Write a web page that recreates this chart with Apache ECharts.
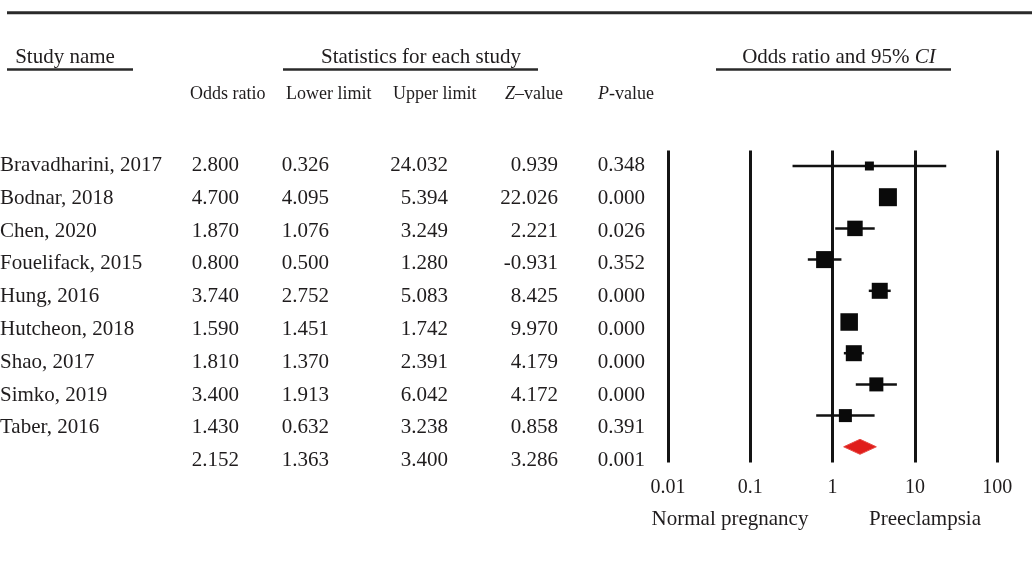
<!DOCTYPE html>
<html>
<head>
<meta charset="utf-8">
<title>Odds ratio forest plot</title>
<script src="https://cdn.jsdelivr.net/npm/echarts@6/dist/echarts.min.js"></script>
<style>
  html, body { margin: 0; padding: 0; background: #fff; }
  #chart { width: 1032px; height: 564px; }
</style>
</head>
<body>
<div id="chart"></div>
<script>
// Study-level results; the last row is the pooled estimate.
const studies = ['Bravadharini, 2017', 'Bodnar, 2018', 'Chen, 2020', 'Fouelifack, 2015', 'Hung, 2016',
                 'Hutcheon, 2018', 'Shao, 2017', 'Simko, 2019', 'Taber, 2016', ''];
const oddsRatio  = [2.800, 4.700, 1.870, 0.800, 3.740, 1.590, 1.810, 3.400, 1.430, 2.152];
const lowerLimit = [0.326, 4.095, 1.076, 0.500, 2.752, 1.451, 1.370, 1.913, 0.632, 1.363];
const upperLimit = [24.032, 5.394, 3.249, 1.280, 5.083, 1.742, 2.391, 6.042, 3.238, 3.400];
const zValue     = [0.939, 22.026, 2.221, -0.931, 8.425, 9.970, 4.179, 4.172, 0.858, 3.286];
const pValue     = [0.348, 0.000, 0.026, 0.352, 0.000, 0.000, 0.000, 0.000, 0.391, 0.001];
// Relative study weights (%), used for the size of each square.
const relWeight  = [3.8, 15.3, 11.3, 13.7, 12.1, 14.5, 12.1, 9.3, 8.0];
const xTickLabels = ['0.01', '0.1', '1', '10', '100'];
const sideLabels = ['Normal pregnancy', 'Preeclampsia'];

const SERIF = '"Liberation Serif", "Times New Roman", serif';
const INK = '#1f1c1d';
const rowKeys = studies.map((_, i) => String(i));
const pooledRow = studies.length - 1;

// Table columns: right-aligned anchors in pixels.
const columns = [
  { x: 0,   align: 'left',  text: i => studies[i] },
  { x: 239, align: 'right', text: i => oddsRatio[i].toFixed(3) },
  { x: 329, align: 'right', text: i => lowerLimit[i].toFixed(3) },
  { x: 448, align: 'right', text: i => upperLimit[i].toFixed(3) },
  { x: 558, align: 'right', text: i => zValue[i].toFixed(3) },
  { x: 645, align: 'right', text: i => pValue[i].toFixed(3) }
];

const forestData = oddsRatio.map((v, i) => [i, v, lowerLimit[i], upperLimit[i],
  i < relWeight.length ? relWeight[i] : null]);
const tableData = studies.map((_, i) => [0, i]);

function renderForest(params, api) {
  const row = api.value(0);
  const or = api.value(1), lo = api.value(2), hi = api.value(3), w = api.value(4);
  const c = api.coord([or, row]);
  const pLo = api.coord([lo, row]);
  const pHi = api.coord([hi, row]);
  if (row === pooledRow) {
    const h = 7.5;
    return {
      type: 'polygon',
      shape: { points: [[pLo[0], c[1]], [c[0], c[1] - h], [pHi[0], c[1]], [c[0], c[1] + h]] },
      style: { fill: '#e01e1b', stroke: '#e84a45', lineWidth: 1 }
    };
  }
  const s = Math.sqrt(w) * 4.6;
  return {
    type: 'group',
    children: [
      { type: 'line', shape: { x1: pLo[0], y1: c[1], x2: pHi[0], y2: c[1] },
        style: { stroke: '#111', lineWidth: 2.5 } },
      { type: 'rect', shape: { x: c[0] - s / 2, y: c[1] - s / 2, width: s, height: s },
        style: { fill: '#0a0a0a' } }
    ]
  };
}

function renderTable(params, api) {
  const row = api.value(1);
  const y = api.coord([0, row])[1];
  return {
    type: 'group',
    children: columns.map(col => ({
      type: 'text',
      x: col.x, y: y,
      style: { text: col.text(row), fontFamily: SERIF, fontSize: 21, fill: INK,
               align: col.align, verticalAlign: 'middle' }
    }))
  };
}

function txt(x, y, text, size, align, rich) {
  return { type: 'text', x: x, y: y,
    style: { text: text, fontFamily: SERIF, fontSize: size, fill: INK,
             align: align || 'center', verticalAlign: 'middle', rich: rich } };
}
function hline(x1, x2, y, w) {
  return { type: 'line', shape: { x1: x1, y1: y, x2: x2, y2: y },
    style: { stroke: '#2a2a2a', lineWidth: w } };
}
const italic = size => ({ i: { fontFamily: SERIF, fontSize: size, fontStyle: 'italic', fill: INK },
                          n: { fontFamily: SERIF, fontSize: size, fill: INK } });

const chart = echarts.init(document.getElementById('chart'), null, { renderer: 'canvas' });
chart.setOption({
  backgroundColor: '#fff',
  animation: false,
  grid: [
    { left: 668, top: 150.4, width: 329.2, height: 312 },
    { left: 0, top: 149.1, width: 660, height: 328 }
  ],
  xAxis: [
    { type: 'log', logBase: 10, min: 0.01, max: 100, gridIndex: 0,
      axisLine: { show: false }, axisTick: { show: false },
      splitLine: { show: true, lineStyle: { color: '#141414', width: 3 } },
      axisLabel: { margin: 15, fontFamily: SERIF, fontSize: 20, color: INK,
        formatter: v => xTickLabels[Math.round(Math.log10(v)) + 2] } },
    { type: 'value', min: 0, max: 660, gridIndex: 1, show: false }
  ],
  yAxis: [
    { type: 'category', data: rowKeys, inverse: true, gridIndex: 0, show: false },
    { type: 'category', data: rowKeys, inverse: true, gridIndex: 1, show: false }
  ],
  series: [
    { type: 'custom', xAxisIndex: 0, yAxisIndex: 0, data: forestData,
      encode: { x: [1, 2, 3], y: 0 }, renderItem: renderForest, clip: false, silent: true },
    { type: 'custom', xAxisIndex: 1, yAxisIndex: 1, data: tableData,
      encode: { x: 0, y: 1 }, renderItem: renderTable, clip: false, silent: true }
  ],
  graphic: [
    hline(7, 1032, 12.7, 3),
    txt(65, 57, 'Study name', 21),
    hline(7, 133, 69.5, 2.5),
    txt(421, 57, 'Statistics for each study', 21),
    hline(283, 538, 69.5, 2.5),
    txt(839, 57, '{n|Odds ratio and 95% }{i|CI}', 21, 'center', italic(21)),
    hline(716, 951, 69.5, 2.5),
    txt(190, 94, 'Odds ratio', 18, 'left'),
    txt(286, 94, 'Lower limit', 18, 'left'),
    txt(393, 94, 'Upper limit', 18, 'left'),
    txt(505, 94, '{i|Z}{n|–value}', 18, 'left', italic(18)),
    txt(598, 94, '{i|P}{n|-value}', 18, 'left', italic(18)),
    txt(730, 519, sideLabels[0], 21),
    txt(925, 519, sideLabels[1], 21)
  ]
});
</script>
</body>
</html>
